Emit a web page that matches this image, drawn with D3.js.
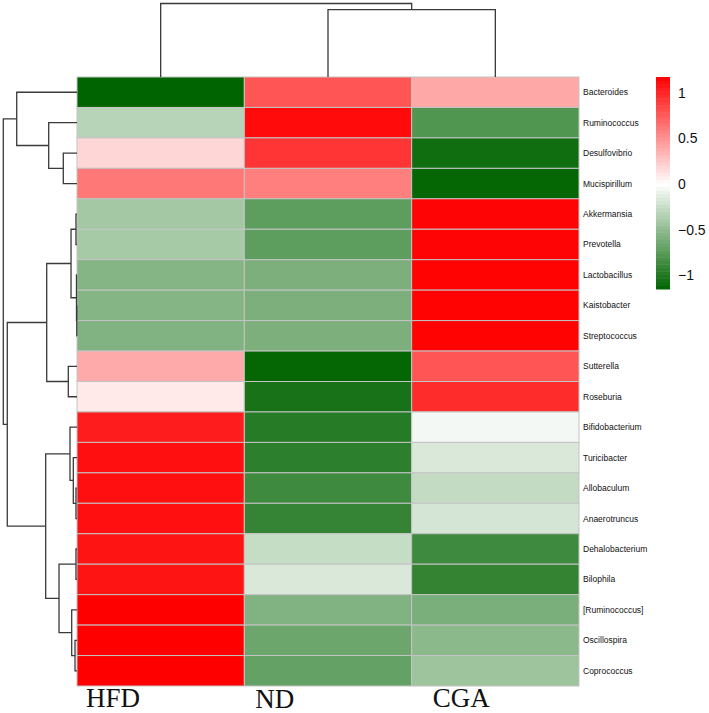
<!DOCTYPE html>
<html>
<head>
<meta charset="utf-8">
<script src="https://cdn.jsdelivr.net/npm/d3@7"></script>
<style>
  body { margin: 0; background: #fff; }
  svg { display: block; }
</style>
</head>
<body>
<svg id="chart" width="709" height="713"></svg>
<script>
// Row (genus) labels, top to bottom
const genera = ["Bacteroides", "Ruminococcus", "Desulfovibrio", "Mucispirillum", "Akkermansia",
  "Prevotella", "Lactobacillus", "Kaistobacter", "Streptococcus", "Sutterella", "Roseburia",
  "Bifidobacterium", "Turicibacter", "Allobaculum", "Anaerotruncus", "Dehalobacterium",
  "Bilophila", "[Ruminococcus]", "Oscillospira", "Coprococcus"];

// Column (group) labels
const groups = ["HFD", "ND", "CGA"];

// Scaled abundance per group (same order as genera)
const hfdValues = [-1.15, -0.32, 0.19, 0.62, -0.41, -0.40, -0.55, -0.55, -0.57, 0.39, 0.10,
  1.04, 1.10, 1.10, 1.10, 1.08, 1.08, 1.17, 1.17, 1.17];
const ndValues = [0.78, 1.12, 0.93, 0.59, -0.73, -0.73, -0.59, -0.59, -0.59, -1.13, -1.04,
  -0.98, -0.95, -0.87, -0.91, -0.26, -0.17, -0.57, -0.66, -0.70];
const cgaValues = [0.40, -0.79, -1.08, -1.13, 1.15, 1.15, 1.16, 1.16, 1.16, 0.78, 0.97,
  -0.05, -0.17, -0.27, -0.19, -0.87, -0.92, -0.60, -0.52, -0.44];

// Legend ticks
const legendTicks = [1, 0.5, 0, -0.5, -1];

// Row dendrogram: [height, left, right], leaves are row indices
const rowTree = [1.0,
  [0.818, 0, [0.384, 1, [0.186, 2, 3]]],
  [0.946,
    [0.411,
      [0.081, [0.014, 4, 5], [0.007, 6, [0.003, 7, 8]]],
      [0.118, 9, 10]],
    [0.425,
      [0.095, 11, [0.05, 12, [0.014, 13, 14]]],
      [0.244, [0.014, 15, 16], [0.072, 17, [0.027, 18, 19]]]]]];

// Column dendrogram
const colTree = [1.0, 0, [0.918, 1, 2]];

const svg = d3.select("#chart");

// Heatmap box
const hmLeft = 77, hmRight = 579, hmTop = 77, hmBottom = 686;

const x = d3.scaleBand().domain(d3.range(groups.length)).range([hmLeft, hmRight]);
const y = d3.scaleBand().domain(d3.range(genera.length)).range([hmTop, hmBottom]);

const allValues = [hfdValues, ndValues, cgaValues];
const vmin = d3.min(allValues.flat()), vmax = d3.max(allValues.flat());

const color = d3.scaleLinear()
  .domain([vmin, 0, vmax])
  .range(["#006400", "#ffffff", "#ff0000"])
  .interpolate(d3.interpolateRgb);

// cells
const cells = [];
allValues.forEach((vals, c) => vals.forEach((v, r) => cells.push({ c, r, v })));

svg.append("g").selectAll("rect")
  .data(cells)
  .enter().append("rect")
  .attr("x", d => x(d.c))
  .attr("y", d => y(d.r))
  .attr("width", x.bandwidth())
  .attr("height", y.bandwidth())
  .attr("fill", d => color(d.v))
  .attr("stroke", "#c4c4c4")
  .attr("stroke-width", 1);

// row labels
svg.append("g").selectAll("text")
  .data(genera)
  .enter().append("text")
  .attr("x", hmRight + 4)
  .attr("y", (d, i) => y(i) + y.bandwidth() / 2)
  .attr("dy", "0.35em")
  .style("font-family", "'Liberation Sans', Arial, sans-serif")
  .style("font-size", "8.5px")
  .attr("fill", "#111")
  .text(d => d);

// column labels (placed slightly left of centre like the original)
const colLabelShift = [9, 11, 21];
svg.append("g").selectAll("text")
  .data(groups)
  .enter().append("text")
  .attr("x", (d, i) => x(i) + colLabelShift[i])
  .attr("y", (d, i) => i === 1 ? 708 : 707)
  .style("font-family", "'Liberation Serif', 'Times New Roman', serif")
  .style("font-size", "27px")
  .attr("fill", "#111")
  .text(d => d);

// dendrograms
function drawDendro(tree, leafPos, hScale, vertical) {
  const root = d3.hierarchy(tree, d => Array.isArray(d) ? d.slice(1) : null);
  root.eachAfter(n => {
    if (n.children) {
      n.h = n.data[0];
      n.p = d3.mean([n.children[0].p, n.children[n.children.length - 1].p]);
    } else {
      n.h = 0;
      n.p = leafPos(n.data);
    }
  });
  const g = svg.append("g")
    .attr("fill", "none")
    .attr("stroke", "#3a3a3a")
    .attr("stroke-width", 1.3);
  root.each(n => {
    if (!n.children) return;
    const a = n.children[0], b = n.children[n.children.length - 1];
    const d = `M${hScale(a.h)},${a.p}H${hScale(n.h)}V${b.p}H${hScale(b.h)}`;
    g.append("path").attr("d", d)
      .attr("transform", vertical ? "matrix(0,1,1,0,0,0)" : null);
  });
}

// left dendrogram: height 0 at heatmap edge, 1 at far left
const rowH = d3.scaleLinear().domain([0, 1]).range([hmLeft, 3.3]);
drawDendro(rowTree, i => y(i) + y.bandwidth() / 2, rowH, false);

// top dendrogram: drawn in swapped coordinates
const colH = d3.scaleLinear().domain([0, 1]).range([hmTop, 3.5]);
drawDendro(colTree, i => x(i) + x.bandwidth() / 2, colH, true);

// legend
const legY = d3.scaleLinear().domain([vmin, vmax]).range([289, 77]);
const steps = d3.range(0, 60);
const stepH = (289 - 77) / steps.length;
svg.append("g").selectAll("rect")
  .data(steps)
  .enter().append("rect")
  .attr("x", 656)
  .attr("y", d => 289 - (d + 1) * stepH)
  .attr("width", 14)
  .attr("height", stepH + 0.5)
  .attr("fill", d => color(legY.invert(289 - (d + 0.5) * stepH)));

svg.append("g").selectAll("text")
  .data(legendTicks)
  .enter().append("text")
  .attr("x", 678)
  .attr("y", d => legY(d))
  .attr("dy", "0.36em")
  .style("font-family", "'Liberation Sans', Arial, sans-serif")
  .style("font-size", "14px")
  .attr("fill", "#111")
  .text(d => d3.format("")(d).replace("-", "\u2212"));
</script>
</body>
</html>
